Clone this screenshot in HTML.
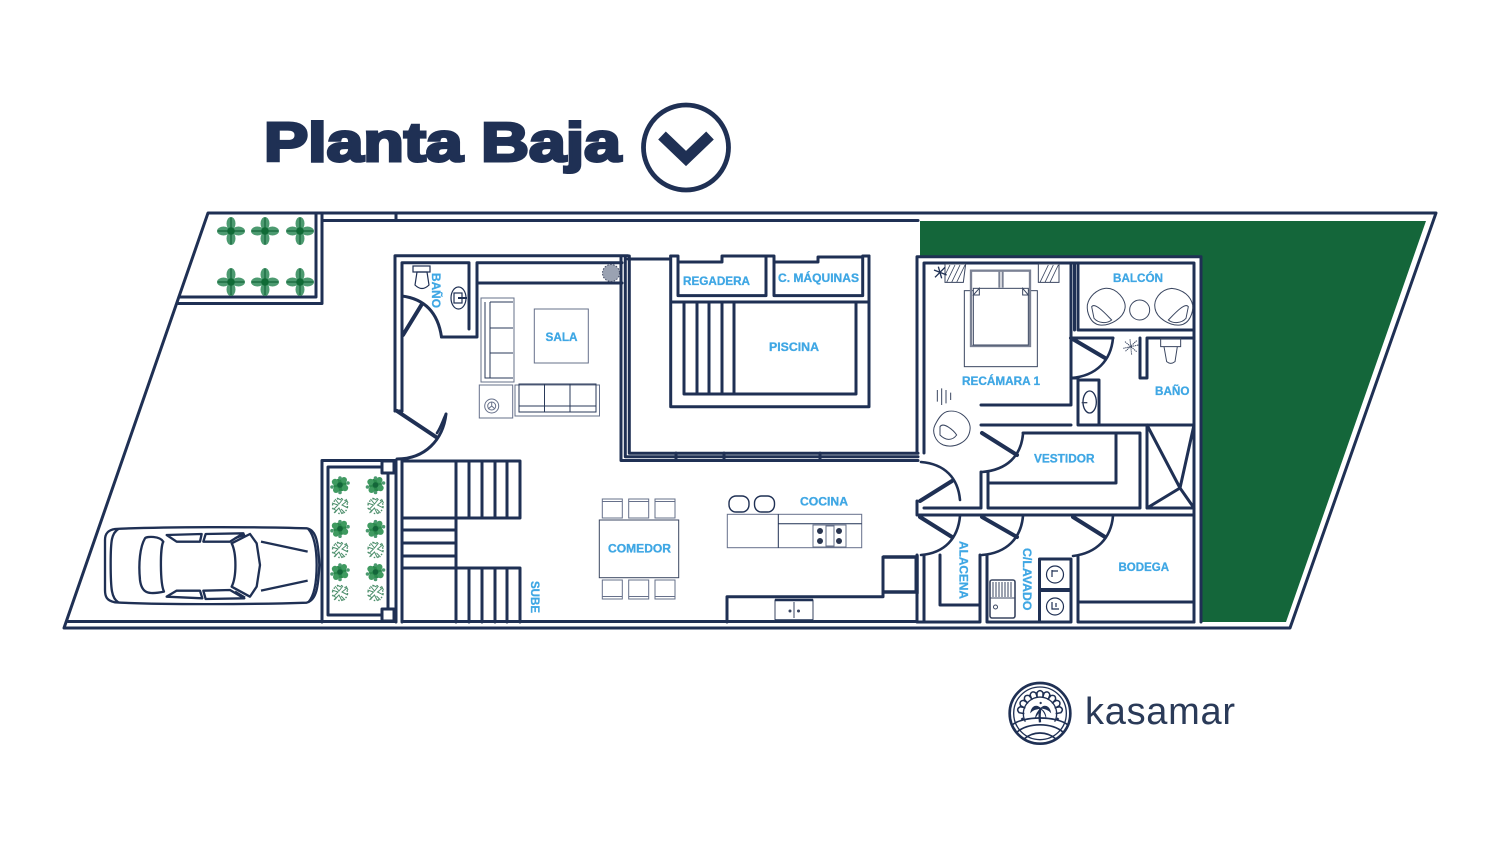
<!DOCTYPE html>
<html><head><meta charset="utf-8"><style>
html,body{margin:0;padding:0;background:#fff;width:1500px;height:843px;overflow:hidden}
svg{display:block}
.w{fill:none;stroke:#1f3054;stroke-width:3;stroke-linecap:round;stroke-linejoin:round}
.t{fill:none;stroke:#1f3054;stroke-width:1.2}
.g{fill:none;stroke:#66708a;stroke-width:1}
.l{font-family:"Liberation Sans",sans-serif;font-weight:bold;fill:#3fa7e4;font-size:12px;stroke:#3fa7e4;stroke-width:.3}
</style></head><body>
<svg width="1500" height="843" viewBox="0 0 1500 843" xmlns="http://www.w3.org/2000/svg">
<defs>
<g id="p">
<ellipse cx="-7.500" cy="0" rx="6.500" ry="4.500" fill="#4c9a70"/><ellipse cx="7.500" cy="0" rx="6.500" ry="4.500" fill="#4c9a70"/>
<ellipse cx="0" cy="-7.500" rx="4.500" ry="6.500" fill="#4c9a70"/><ellipse cx="0" cy="7.500" rx="4.500" ry="6.500" fill="#4c9a70"/>
<path d="M-13.500 0H13.500M0-13.500V13.500" stroke="#14663a" stroke-width="1.200"/><circle r="3.800" fill="#0f6a35"/></g>
<g id="b1"><circle r="6.500" fill="#2a8a4c"/><circle cx="-5" cy="-3" r="3.200" fill="#3f9a60"/><circle cx="5" cy="3" r="3.200" fill="#3f9a60"/><circle cx="4" cy="-5" r="3" fill="#3f9a60"/><circle cx="-4" cy="5" r="3" fill="#3f9a60"/><circle cx="0" cy="-7" r="1.800" fill="#4c9a70"/><circle cx="0" cy="7.500" r="1.800" fill="#4c9a70"/><circle cx="-8" cy="2" r="1.800" fill="#4c9a70"/><circle cx="8" cy="-2" r="1.800" fill="#4c9a70"/><circle r="2.800" fill="#14663a"/></g>
<g id="b2" fill="none" stroke="#4d8f6c" stroke-width="1"><path d="M-8-3L-2-1-6 3M-5-7L-1-2 3-7M7-5L2-1 8 2M-6 7L-1 2 2 8M5 7L1 3M-8 2L-3 5M6-7L8-3M-3-8L1-6"/><circle r="7.500" stroke-dasharray="1.500 2.500" stroke-width="1.400"/></g>
<path id="ar" d="M-9-46V-62Q0-74 9-62V-46" fill="none" stroke="#1f3054" stroke-width="4.500"/>
</defs>

<!-- title -->
<text x="264" y="161" font-family="'Liberation Sans',sans-serif" font-weight="bold" font-size="55" fill="#1f3054" stroke="#1f3054" stroke-width="3" textLength="357" lengthAdjust="spacingAndGlyphs">Planta Baja</text>
<circle cx="686" cy="147.500" r="42.500" fill="none" stroke="#1f3054" stroke-width="4.800"/>
<path d="M662 135.500L686 158.500 710 135.500" fill="none" stroke="#1f3054" stroke-width="11"/>

<!-- green -->
<polygon points="920,221 1426,221 1286,622 1202,622 1202,256 920,256" fill="#14663a"/>

<!-- site -->
<g class="w">
<polygon points="208,213 1436,213 1290,628 64,628"/>
<path d="M322 220.500H918M396 213V220.500M316 213V297H179M322 213V303.500H178"/>
<path d="M68 621.500H396M402 621.500H917"/>
<!-- planter -->
<path d="M322 622V460.500H396V622M328 615V467H388V615H328M402 461V622"/>
<rect x="382" y="461" width="12" height="12" fill="#fff"/><rect x="382" y="609" width="12" height="12" fill="#fff"/>
<!-- stairs -->
<path d="M402 461H520V518H402M402 530H456M402 543H456M402 556H456M402 568H520V622M456 461V622M469 461V518M482 461V518M495 461V518M507 461V518M469 568V622M482 568V622M495 568V622M507 568V622"/>
<!-- main house left -->
<path d="M395 411V255.700H628M402 411V262.700H469V329M477 262.700H622M477 283H622M477 262.700V337H441.500"/>
<path d="M402 296C425 299 438 313 441.500 337"/>
<path d="M402 411H395" />
<path d="M621 256V460.500H918M625.300 256V456.800H918M629.300 256V453.300H918M676 453V460M724 453V460M820 453V460M628 259H670"/>
<path d="M397 459C425 459 443 440 446 414"/>
<!-- pool -->
<path d="M670.700 256V406.700H869V256M670.700 302H869M684 302V394H856V302M697 302V394M709 302V394M722 302V394M734 302V394"/>
<path d="M670.700 256H678V295.600H766V256H722V262H678M766 256H774V295.600H862.700V257H818V262H774M862.700 256H869"/>
<!-- right block -->
<path d="M917 453V256.700H1201V622M924 453V263H1194V622M917 501V515H1194M924 508H981V472M988 472V508H1140V433H1023M1116 433V483H988"/>
<path d="M1071 263V405H981M1074.500 263V330M1078 263V330H1194M1071 338H1113M1147 338H1194M1140 338V378H1147V338M1071 378H1078M1078 380V425H1099V380ZM981 425H1071M1078 425H1194"/>
<path d="M1147 425H1194M1147 425V508H1194M1147 425L1180 488 1194 425M1180 488L1194 508M1180 488L1147 508"/>
<path d="M917 555V622H924V555M940 555V605H980M980 555V622H924M987 555V622H1071V559H1039.500V622M1071 622V559M1039.500 590H1071M1078 556V622H1194M1078 602H1194"/>
<!-- kitchen counter -->
<path d="M727 622V596.700H883V592M883 592V557H916V592H883"/>
</g>
<g fill="none" stroke="#1f3054" stroke-linecap="round">
<g stroke-width="2.600">
<path d="M921 462C945 464 958 478 960 500"/>
<path d="M960 516C958 538 945 553 921 555"/>
<path d="M1023 434C1021 456 1007 470 982 472"/>
<path d="M1023 516C1021 538 1007 553 982 555"/>
<path d="M1113 516C1111 538 1097 553 1073 556"/>
<path d="M1113 338C1111 360 1097 376 1071 378"/>
<path d="M446 414C443 420 441 427 437 433"/>
</g>
<g stroke-width="4">
<path d="M403 335L422 304M397 411L436 437M920 501L952 481M920 517L952 537M982 433L1017 455M982 517L1017 537M1073 517L1105 537M1071 338L1105 358"/>
</g>
</g>
<path d="M883 557H917V592H883" fill="none" stroke="#1f3054" stroke-width="3.500"/>
<path d="M1039.500 590H1071" stroke="#1f3054" stroke-width="4"/>

<!-- plants top -->
<use href="#p" x="231" y="231"/><use href="#p" x="265" y="231"/><use href="#p" x="300" y="231"/>
<use href="#p" x="231" y="282"/><use href="#p" x="265" y="282"/><use href="#p" x="300" y="282"/>
<!-- bushes -->
<use href="#b1" x="340" y="485"/><use href="#b1" x="375.500" y="485"/>
<use href="#b2" x="340" y="506"/><use href="#b2" x="375.500" y="506"/>
<use href="#b1" x="340" y="528.700"/><use href="#b1" x="375.500" y="528.700"/>
<use href="#b2" x="340" y="550"/><use href="#b2" x="375.500" y="550"/>
<use href="#b1" x="340" y="572"/><use href="#b1" x="375.500" y="572"/>
<use href="#b2" x="340" y="593"/><use href="#b2" x="375.500" y="593"/>

<!-- car -->
<g transform="translate(60,430) scale(.33333)" fill="none" stroke="#1f3054" stroke-width="7" stroke-linejoin="round">
<path d="M165 297C300 290 600 290 740 295C770 300 775 340 778 405C775 470 770 510 740 518C600 523 300 525 165 517C140 512 135 500 135 480V330C135 310 145 300 165 297Z"/>
<path d="M175 297C155 310 152 330 152 400C152 480 155 505 175 517M745 297C765 320 770 360 770 405C770 450 765 495 745 517"/>
<path d="M255 325C240 350 235 400 240 450C245 490 265 495 312 485C300 460 300 350 310 335C300 318 260 318 255 325Z"/>
<path d="M320 315L425 312 420 335H350ZM430 335L437 312 550 310 510 335ZM320 500L350 482H420L427 505ZM430 482L510 480 553 505 437 507Z"/>
<path d="M515 340L570 312 590 340 600 405 590 470 570 500 515 470C530 440 530 370 515 340ZM525 325L555 313M525 485L555 503"/>
<path d="M603 335L743 365M603 482L743 452"/>
</g>

<!-- left bath fixtures -->
<g class="t">
<rect x="413" y="266" width="17" height="6"/>
<path d="M417 272H427L429 285Q422 292 415 285Z"/>
<ellipse cx="458.500" cy="298" rx="7.500" ry="11"/>
<rect x="454" y="293" width="8" height="10"/>
<path d="M458 298H467" stroke-width="2"/>
</g>
<circle cx="611" cy="273" r="8.500" fill="#9aa2b2" stroke="#444d66" stroke-dasharray="1.500 1.500"/>

<!-- sala -->
<rect x="534.300" y="309" width="54" height="54" class="g"/>
<g class="g">
<rect x="481" y="298" width="33" height="84"/>
<path d="M485 302V378H513M490 302V378M490 302H513M490 328H513M490 353H513" stroke="#2a3a5a"/>
<rect x="479.300" y="385" width="33.400" height="33"/>
<circle cx="491.700" cy="406" r="7"/><circle cx="491.700" cy="406" r="4"/>
<path d="M491.700 402V406L488 409M491.700 406L495 409"/>
<rect x="515" y="385" width="84.500" height="31"/>
<path d="M519 384H596V412H519ZM519 406H596M544.500 384V412M570 384V412" stroke="#2a3a5a"/>
</g>

<!-- dining -->
<g class="g">
<rect x="599.300" y="520" width="79.400" height="57.700" stroke="#3a4660"/>
<rect x="602.300" y="499" width="20" height="19"/><rect x="628.700" y="499" width="20" height="19"/><rect x="655" y="499" width="20" height="19"/>
<path d="M602.300 501.500H622.300M628.700 501.500H648.700M655 501.500H675M602.300 596.500H622.300M628.700 596.500H648.700M655 596.500H675"/>
<rect x="602.300" y="580" width="20" height="19"/><rect x="628.700" y="580" width="20" height="19"/><rect x="655" y="580" width="20" height="19"/>
</g>
<!-- kitchen -->
<g class="g" stroke="#3a4660">
<rect x="727.300" y="514.300" width="134.400" height="33.400"/>
<path d="M778.300 514.300V547.700M778.300 523.700H861.700" stroke="#1f3054"/>
<rect x="813" y="525" width="33" height="22"/>
<rect x="826" y="526" width="8" height="20"/>
</g>
<g fill="#2a3650"><circle cx="820" cy="531" r="3"/><circle cx="820" cy="541" r="3"/><circle cx="839" cy="531" r="3"/><circle cx="839" cy="541" r="3"/></g>
<g fill="none" stroke="#1f3054" stroke-width="1.400">
<rect x="729" y="496" width="20" height="16" rx="7"/><rect x="754.500" y="496" width="20" height="16" rx="7"/>
</g>
<!-- sink counter -->
<rect x="775" y="600" width="38" height="20" fill="#fff" stroke="#3a4660"/>
<path d="M775 600H813M775 620.500H813" stroke="#1f3054" stroke-width="2.500"/>
<path d="M794 602V618" stroke="#3a4660"/>
<circle cx="790" cy="611" r="1.500" fill="#3a4660"/><circle cx="798.500" cy="611" r="1.500" fill="#3a4660"/>

<!-- bedroom -->
<g transform="translate(910,250) scale(.33333)" fill="none" stroke="#3a4660" stroke-width="3">
<path d="M105 42H167L160 97H105ZM385 42H447V97H385Z" />
<path d="M110 97L135 45M125 97L150 45M140 97L165 45M105 75L120 45M390 97L415 45M405 97L430 45M420 97L445 45" stroke-width="2.500"/>
<rect x="163" y="122" width="219" height="228"/>
<rect x="183" y="62" width="177" height="226" stroke="#7b8294" stroke-width="7"/>
<path d="M268 65V113M278 65V113" stroke-width="6" stroke="#7b8294"/>
<rect x="190" y="115" width="165" height="170" fill="#fff" stroke="#3a4660" stroke-width="3"/>
<path d="M190 135L208 115V135ZM355 135L338 115V135Z"/>
<path d="M72 60L110 75M85 50L95 85M75 82L105 52" stroke="#1f3054" stroke-width="4"/>
<path d="M82 420V455M95 415V465M108 420V460M122 428V450" />
<path d="M110 485C150 475 185 510 180 540C175 580 130 595 100 585C75 575 65 545 75 525C85 505 95 490 110 485Z"/>
<path d="M90 530C100 515 130 540 140 555C125 575 105 570 90 555Z"/>
<!-- balcon -->
<path d="M585 115C620 112 650 150 645 175C640 205 600 228 570 225C540 222 530 185 532 165C537 140 560 118 585 115Z"/>
<path d="M545 170C555 155 590 195 605 210C590 222 565 220 552 205Z"/>
<circle cx="689" cy="180" r="30"/>
<path d="M785 115C750 118 730 150 735 175C740 205 780 228 810 225C840 222 850 185 848 165C843 140 820 118 785 115Z"/>
<path d="M835 170C825 155 790 195 775 210C790 222 815 220 828 205Z"/>
<!-- baño wc, sink -->
<path d="M752 265H812V290H752ZM762 290H802L795 335Q782 345 770 335Z"/>
<ellipse cx="539" cy="456" rx="20" ry="33" stroke="#1f3054" stroke-width="4"/>
<path d="M515 458H532" stroke-width="4"/>
<path d="M640 295L685 285M660 268L665 315M645 275L680 305M680 272L645 305" stroke-width="3" stroke-dasharray="4 2"/>
</g>

<!-- laundry -->
<g fill="none" stroke="#3a4660" stroke-width="1">
<rect x="990" y="580" width="25" height="38" rx="2" stroke-width="1.600"/>
<path d="M993 582V597M996 582V597M999 582V597M1002 582V597M1005 582V597M1008 582V597M1011 582V597M990 598H1015"/>
<circle cx="995.500" cy="607" r="2"/>
<circle cx="1055" cy="574.500" r="8.500" stroke="#1f3054" stroke-width="1.200"/>
<circle cx="1055" cy="606.500" r="8.500" stroke="#1f3054" stroke-width="1.200"/>
<path d="M1052 570V577M1052 571H1058M1052 602V609H1059M1056 603V607" stroke="#1f3054" stroke-width="1.200"/>
</g>

<!-- labels -->
<g class="l">
<text x="545.500" y="341" textLength="32" lengthAdjust="spacingAndGlyphs">SALA</text>
<text x="683" y="285" textLength="67" lengthAdjust="spacingAndGlyphs">REGADERA</text>
<text x="778" y="282" textLength="81" lengthAdjust="spacingAndGlyphs">C. MÁQUINAS</text>
<text x="769" y="351" textLength="50" lengthAdjust="spacingAndGlyphs">PISCINA</text>
<text x="608" y="552.500" textLength="63" lengthAdjust="spacingAndGlyphs">COMEDOR</text>
<text x="800" y="505.500" textLength="48" lengthAdjust="spacingAndGlyphs">COCINA</text>
<text x="962" y="385" textLength="78" lengthAdjust="spacingAndGlyphs">RECÁMARA 1</text>
<text x="1113" y="282" textLength="50" lengthAdjust="spacingAndGlyphs">BALCÓN</text>
<text x="1155" y="395" textLength="34.500" lengthAdjust="spacingAndGlyphs">BAÑO</text>
<text x="1034" y="462.500" textLength="60.500" lengthAdjust="spacingAndGlyphs">VESTIDOR</text>
<text x="1118.500" y="571" textLength="50.500" lengthAdjust="spacingAndGlyphs">BODEGA</text>
<text transform="translate(959.500,541) rotate(90)" textLength="58" lengthAdjust="spacingAndGlyphs">ALACENA</text>
<text transform="translate(1023,548) rotate(90)" textLength="62.500" lengthAdjust="spacingAndGlyphs">C/LAVADO</text>
<text transform="translate(432,273) rotate(90)" textLength="35" lengthAdjust="spacingAndGlyphs">BAÑO</text>
<text transform="translate(531,581) rotate(90)" textLength="32" lengthAdjust="spacingAndGlyphs">SUBE</text>
</g>

<!-- logo -->
<g transform="translate(1000,675) scale(.33333)" fill="none" stroke="#1f3054">
<circle cx="120" cy="115" r="91" stroke-width="8"/>
<circle cx="120" cy="115" r="79" stroke-width="4"/>
<path d="M76 140A50 50 0 1 1 164 140" stroke-width="4"/>
<g transform="translate(120,115)">
<use href="#ar" transform="rotate(-80)"/><use href="#ar" transform="rotate(-60)"/><use href="#ar" transform="rotate(-40)"/><use href="#ar" transform="rotate(-20)"/><use href="#ar"/><use href="#ar" transform="rotate(20)"/><use href="#ar" transform="rotate(40)"/><use href="#ar" transform="rotate(60)"/><use href="#ar" transform="rotate(80)"/>
</g>
<path d="M36 150C70 122 170 122 204 150" stroke-width="5"/>
<path d="M50 172C85 142 155 142 190 172M72 192C100 168 140 168 168 192" stroke-width="5"/>
<path d="M120 142C118 125 118 112 122 98" stroke-width="7"/>
<path d="M122 100C110 88 96 92 92 112C102 102 112 102 122 100C114 108 108 116 106 128C114 116 120 108 122 100C130 108 136 118 138 128C138 114 130 106 122 100C132 100 142 102 152 112C148 92 132 88 122 100Z" fill="#1f3054" stroke-width="2"/>
<circle cx="122" cy="84" r="3" fill="#1f3054"/>
<path d="M62 132l5-5 5 5-5 5zM168 132l5-5 5 5-5 5z" fill="#1f3054" stroke="none"/>
</g>
<text x="1085" y="724" font-family="'Liberation Sans',sans-serif" font-size="38" fill="#2a3a58" textLength="150" lengthAdjust="spacing">kasamar</text>
</svg>
</body></html>
